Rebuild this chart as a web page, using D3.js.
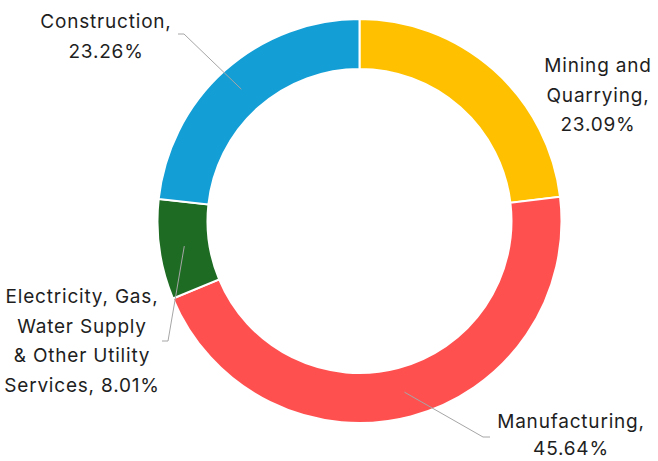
<!DOCTYPE html>
<html>
<head>
<meta charset="utf-8">
<script src="https://cdn.jsdelivr.net/npm/d3@7"></script>
<style>
html,body{margin:0;padding:0;background:#fff;}
svg{display:block;}
text{font-family:Inter,"Open Sans",sans-serif;font-size:19px;letter-spacing:0.8px;fill:#1e1e1e;}
</style>
</head>
<body>
<svg id="chart" width="658" height="461"></svg>
<script>
const categories = ["Mining and Quarrying", "Manufacturing", "Electricity, Gas, Water Supply & Other Utility Services", "Construction"];
const values = [23.09, 45.64, 8.01, 23.26];
const colors = ["#FFC000", "#FF5050", "#1E6B24", "#139ED6"];
const labelLines = [
  ["Mining and", "Quarrying,", "23.09%"],
  ["Manufacturing,", "45.64%"],
  ["Electricity, Gas,", "Water Supply", "& Other Utility", "Services, 8.01%"],
  ["Construction,", "23.26%"]
];

const W = 658, H = 461;
const cx = 359.5, cy = 221, rOuter = 202, rInner = 152;
const layout = [
  {tx: 598, ty: 72, lh: 29.5, line: false},
  {tx: 571, ty: 428, lh: 27, line: true, ex: 483, ey: 437, hx: 490},
  {tx: 82, ty: 303, lh: 29.5, line: true, ex: 168, ey: 341, hx: 162},
  {tx: 106, ty: 28, lh: 29.5, line: true, ex: 184, ey: 34, hx: 178}
];

const svg = d3.select("#chart");
const g = svg.append("g").attr("transform", `translate(${cx},${cy})`);

const pie = d3.pie().sort(null).value(d => d);
const arcs = pie(values);
const arc = d3.arc().innerRadius(rInner).outerRadius(rOuter);

g.selectAll("path.slice").data(arcs).join("path")
  .attr("class", "slice")
  .attr("d", arc)
  .attr("fill", (d, i) => colors[i])
  .attr("stroke", "#fff")
  .attr("stroke-width", 2);

arcs.forEach((d, i) => {
  const L = layout[i];
  if (!L.line) return;
  const c = arc.centroid(d);
  const pts = [[c[0] + cx, c[1] + cy], [L.ex, L.ey], [L.hx, L.ey]];
  svg.append("path")
    .attr("d", d3.line()(pts))
    .attr("fill", "none")
    .attr("stroke", "#A6A6A6")
    .attr("stroke-width", 1);
});

labelLines.forEach((lines, i) => {
  const L = layout[i];
  const t = svg.append("text").attr("text-anchor", "middle");
  lines.forEach((s, j) => {
    t.append("tspan").attr("x", L.tx).attr("y", L.ty + j * L.lh).text(s);
  });
});
</script>
</body>
</html>
